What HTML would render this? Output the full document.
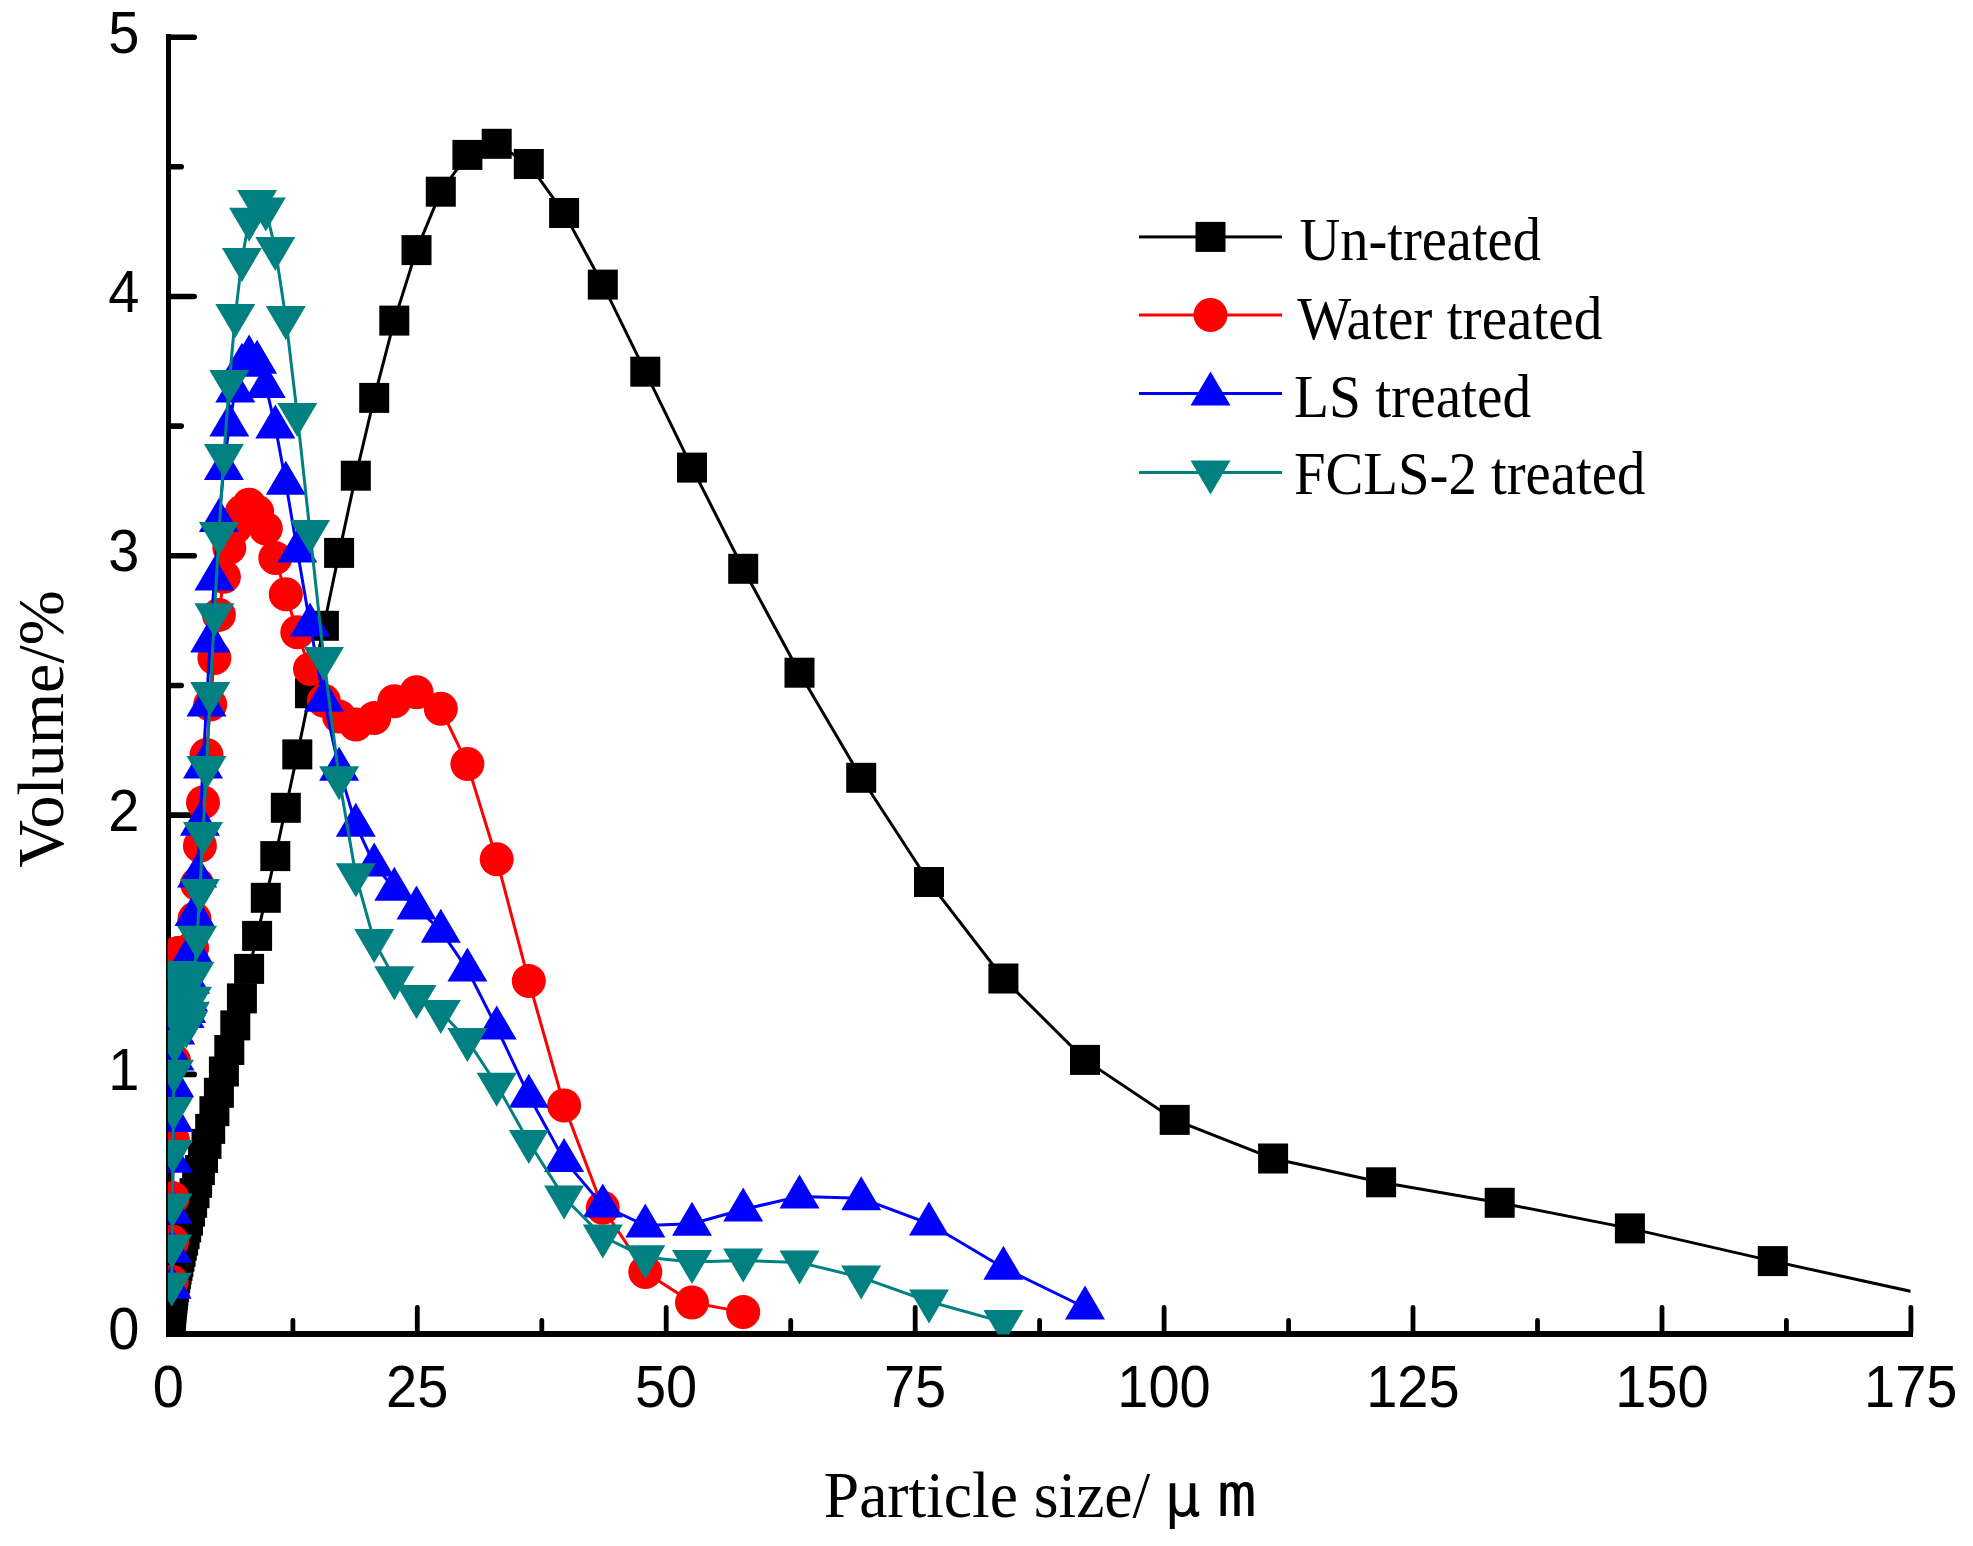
<!DOCTYPE html>
<html><head><meta charset="utf-8"><title>Particle size distribution</title>
<style>html,body{margin:0;padding:0;background:#fff}svg{display:block}text{font-family:"Liberation Sans",sans-serif;fill:#000}.s{font-family:"Liberation Serif","Noto Serif CJK SC",serif}</style></head><body>
<svg width="1973" height="1546" viewBox="0 0 1973 1546">
<rect width="1973" height="1546" fill="#fff"/>
<g fill="#000" shape-rendering="crispEdges">
<rect x="166" y="34" width="5" height="1303"/>
<rect x="166" y="1331" width="1747" height="6"/>

</g>
<g stroke="#000" stroke-linecap="round" fill="none">
<path stroke-width="5.6" d="M169 1333.7H194.2"/><path stroke-width="5.6" d="M169 1074.4H194.2"/><path stroke-width="5.6" d="M169 815.1H194.2"/><path stroke-width="5.6" d="M169 555.8H194.2"/><path stroke-width="5.6" d="M169 296.5H194.2"/><path stroke-width="5.6" d="M169 37.2H194.2"/><path stroke-width="5.6" d="M169 1204H181.2"/><path stroke-width="5.6" d="M169 944.8H181.2"/><path stroke-width="5.6" d="M169 685.5H181.2"/><path stroke-width="5.6" d="M169 426.1H181.2"/><path stroke-width="5.6" d="M169 166.8H181.2"/>
<path stroke-width="4.8" d="M168.4 1333V1307.4"/><path stroke-width="4.8" d="M417.3 1333V1307.4"/><path stroke-width="4.8" d="M666.2 1333V1307.4"/><path stroke-width="4.8" d="M915.2 1333V1307.4"/><path stroke-width="4.8" d="M1164.1 1333V1307.4"/><path stroke-width="4.8" d="M1413 1333V1307.4"/><path stroke-width="4.8" d="M1662 1333V1307.4"/><path stroke-width="4.8" d="M1910.9 1333V1307.4"/><path stroke-width="4.8" d="M292.9 1333V1320.4"/><path stroke-width="4.8" d="M541.8 1333V1320.4"/><path stroke-width="4.8" d="M790.7 1333V1320.4"/><path stroke-width="4.8" d="M1039.6 1333V1320.4"/><path stroke-width="4.8" d="M1288.6 1333V1320.4"/><path stroke-width="4.8" d="M1537.5 1333V1320.4"/><path stroke-width="4.8" d="M1786.4 1333V1320.4"/>
</g>
<text font-size="60" text-anchor="middle" transform="translate(168.3,1406.7) scale(0.933,1)">0</text><text font-size="60" text-anchor="middle" transform="translate(417.2,1406.7) scale(0.933,1)">25</text><text font-size="60" text-anchor="middle" transform="translate(666.1,1406.7) scale(0.933,1)">50</text><text font-size="60" text-anchor="middle" transform="translate(915.1,1406.7) scale(0.933,1)">75</text><text font-size="60" text-anchor="middle" transform="translate(1164,1406.7) scale(0.933,1)">100</text><text font-size="60" text-anchor="middle" transform="translate(1412.9,1406.7) scale(0.933,1)">125</text><text font-size="60" text-anchor="middle" transform="translate(1661.9,1406.7) scale(0.933,1)">150</text><text font-size="60" text-anchor="middle" transform="translate(1910.8,1406.7) scale(0.933,1)">175</text>
<text font-size="60" text-anchor="end" transform="translate(139.4,1349.2) scale(0.933,1)">0</text><text font-size="60" text-anchor="end" transform="translate(139.4,1089.9) scale(0.933,1)">1</text><text font-size="60" text-anchor="end" transform="translate(139.4,830.6) scale(0.933,1)">2</text><text font-size="60" text-anchor="end" transform="translate(139.4,571.3) scale(0.933,1)">3</text><text font-size="60" text-anchor="end" transform="translate(139.4,312) scale(0.933,1)">4</text><text font-size="60" text-anchor="end" transform="translate(139.4,52.7) scale(0.933,1)">5</text>
<text class="s" font-size="65" transform="translate(823.8,1517) scale(0.978,1)">Particle size/</text>
<text font-size="61" style="font-family:'DejaVu Sans Mono',monospace" x="1164" y="1515.5">μ</text>
<text font-size="61" style="font-family:'DejaVu Sans Mono',monospace" transform="translate(1217,1516) scale(1.08,1)">m</text>
<text class="s" font-size="66" text-anchor="middle" transform="translate(62.5,729) rotate(-90)">Volume/%</text>
<clipPath id="c"><rect x="167.9" y="20" width="1742.6" height="1314.5"/></clipPath>
<g clip-path="url(#c)">
<g fill="#000" stroke="none">
<polyline fill="none" stroke="#000" stroke-width="3" points="170.1,1333.7 170.3,1328.5 170.6,1323.3 170.8,1318.1 171.1,1313 171.4,1309.1 171.7,1305.7 172.1,1302.1 172.5,1298.7 172.9,1294.8 173.4,1290.9 174,1287 174.5,1282.4 175.2,1278 175.9,1273.8 176.6,1269.7 177.5,1265.8 178.4,1262 179.4,1256.7 180.6,1251.8 181.8,1245.8 183.1,1240.6 184.6,1234.1 186.2,1227.4 188,1220.6 190,1211.6 192.1,1202.8 194.5,1193.2 197.1,1182.8 199.9,1170.1 203,1157.9 206.5,1143.9 210.2,1128.9 214.4,1111.2 218.9,1092.8 223.9,1071.5 229.3,1050 235.3,1025.4 241.9,998.4 249.1,968.9 257.1,935.9 265.8,897.8 275.3,856.1 285.8,807.8 297.3,754.4 310,693.2 323.9,625.8 339.1,552.9 355.8,475.7 374.2,397.9 394.3,320.6 416.5,250.1 440.8,191.7 467.4,154.9 496.7,143.8 528.8,164 564.1,213 602.8,284.6 645.3,371.7 692,467.6 743.2,568.8 799.5,672.7 861.2,777.8 929,882 1003.4,978.5 1085,1059.9 1174.7,1119.9 1273.1,1158.5 1381.1,1182.3 1499.7,1202.8 1629.9,1228.4 1772.8,1261.1 1929.7,1295.5"/>
<rect x="155.1" y="1318.7" width="30" height="30"/><rect x="155.3" y="1313.5" width="30" height="30"/><rect x="155.6" y="1308.3" width="30" height="30"/><rect x="155.8" y="1303.1" width="30" height="30"/><rect x="156.1" y="1298" width="30" height="30"/><rect x="156.4" y="1294.1" width="30" height="30"/><rect x="156.7" y="1290.7" width="30" height="30"/><rect x="157.1" y="1287.1" width="30" height="30"/><rect x="157.5" y="1283.7" width="30" height="30"/><rect x="157.9" y="1279.8" width="30" height="30"/><rect x="158.4" y="1275.9" width="30" height="30"/><rect x="159" y="1272" width="30" height="30"/><rect x="159.5" y="1267.4" width="30" height="30"/><rect x="160.2" y="1263" width="30" height="30"/><rect x="160.9" y="1258.8" width="30" height="30"/><rect x="161.6" y="1254.7" width="30" height="30"/><rect x="162.5" y="1250.8" width="30" height="30"/><rect x="163.4" y="1247" width="30" height="30"/><rect x="164.4" y="1241.7" width="30" height="30"/><rect x="165.6" y="1236.8" width="30" height="30"/><rect x="166.8" y="1230.8" width="30" height="30"/><rect x="168.1" y="1225.6" width="30" height="30"/><rect x="169.6" y="1219.1" width="30" height="30"/><rect x="171.2" y="1212.4" width="30" height="30"/><rect x="173" y="1205.6" width="30" height="30"/><rect x="175" y="1196.6" width="30" height="30"/><rect x="177.1" y="1187.8" width="30" height="30"/><rect x="179.5" y="1178.2" width="30" height="30"/><rect x="182.1" y="1167.8" width="30" height="30"/><rect x="184.9" y="1155.1" width="30" height="30"/><rect x="188" y="1142.9" width="30" height="30"/><rect x="191.5" y="1128.9" width="30" height="30"/><rect x="195.2" y="1113.9" width="30" height="30"/><rect x="199.4" y="1096.2" width="30" height="30"/><rect x="203.9" y="1077.8" width="30" height="30"/><rect x="208.9" y="1056.5" width="30" height="30"/><rect x="214.3" y="1035" width="30" height="30"/><rect x="220.3" y="1010.4" width="30" height="30"/><rect x="226.9" y="983.4" width="30" height="30"/><rect x="234.1" y="953.9" width="30" height="30"/><rect x="242.1" y="920.9" width="30" height="30"/><rect x="250.8" y="882.8" width="30" height="30"/><rect x="260.3" y="841.1" width="30" height="30"/><rect x="270.8" y="792.8" width="30" height="30"/><rect x="282.3" y="739.4" width="30" height="30"/><rect x="295" y="678.2" width="30" height="30"/><rect x="308.9" y="610.8" width="30" height="30"/><rect x="324.1" y="537.9" width="30" height="30"/><rect x="340.8" y="460.7" width="30" height="30"/><rect x="359.2" y="382.9" width="30" height="30"/><rect x="379.3" y="305.6" width="30" height="30"/><rect x="401.5" y="235.1" width="30" height="30"/><rect x="425.8" y="176.7" width="30" height="30"/><rect x="452.4" y="139.9" width="30" height="30"/><rect x="481.7" y="128.8" width="30" height="30"/><rect x="513.8" y="149" width="30" height="30"/><rect x="549.1" y="198" width="30" height="30"/><rect x="587.8" y="269.6" width="30" height="30"/><rect x="630.3" y="356.7" width="30" height="30"/><rect x="677" y="452.6" width="30" height="30"/><rect x="728.2" y="553.8" width="30" height="30"/><rect x="784.5" y="657.7" width="30" height="30"/><rect x="846.2" y="762.8" width="30" height="30"/><rect x="914" y="867" width="30" height="30"/><rect x="988.4" y="963.5" width="30" height="30"/><rect x="1070" y="1044.9" width="30" height="30"/><rect x="1159.7" y="1104.9" width="30" height="30"/><rect x="1258.1" y="1143.5" width="30" height="30"/><rect x="1366.1" y="1167.3" width="30" height="30"/><rect x="1484.7" y="1187.8" width="30" height="30"/><rect x="1614.9" y="1213.4" width="30" height="30"/><rect x="1757.8" y="1246.1" width="30" height="30"/><rect x="1914.7" y="1280.5" width="30" height="30"/>
</g>
<g fill="#f00" stroke="none">
<polyline fill="none" stroke="#f00" stroke-width="3" points="171.7,1281.8 172.1,1241.4 172.5,1198.1 172.9,1140 173.4,1097 174,1060.7 174.5,1009.6 175.2,981.1 175.9,965.5 176.6,957.7 177.5,953.8 178.4,953 179.4,953 180.6,953.6 181.8,953.8 183.1,953.8 184.6,953.8 186.2,953.3 188,952.5 190,951.2 192.1,947.9 194.5,918.8 197.1,884.1 199.9,845.7 203,802.4 206.5,754.9 210.2,704.6 214.4,658 218.9,614.9 223.9,576.8 229.3,547.8 235.3,527.3 241.9,511.7 249.1,504.7 257.1,511.7 265.8,528.6 275.3,558.1 285.8,594.2 297.3,632.3 310,669.1 323.9,700.7 339.1,716.6 355.8,724.6 374.2,718.1 394.3,701.3 416.5,692.2 440.8,708.8 467.4,764 496.7,859.2 528.8,981.1 564.1,1105.5 602.8,1207.8 645.3,1272.1 692,1302.5 743.2,1312.1"/>
<circle cx="171.7" cy="1281.8" r="17"/><circle cx="172.1" cy="1241.4" r="17"/><circle cx="172.5" cy="1198.1" r="17"/><circle cx="172.9" cy="1140" r="17"/><circle cx="173.4" cy="1097" r="17"/><circle cx="174" cy="1060.7" r="17"/><circle cx="174.5" cy="1009.6" r="17"/><circle cx="175.2" cy="981.1" r="17"/><circle cx="175.9" cy="965.5" r="17"/><circle cx="176.6" cy="957.7" r="17"/><circle cx="177.5" cy="953.8" r="17"/><circle cx="178.4" cy="953" r="17"/><circle cx="179.4" cy="953" r="17"/><circle cx="180.6" cy="953.6" r="17"/><circle cx="181.8" cy="953.8" r="17"/><circle cx="183.1" cy="953.8" r="17"/><circle cx="184.6" cy="953.8" r="17"/><circle cx="186.2" cy="953.3" r="17"/><circle cx="188" cy="952.5" r="17"/><circle cx="190" cy="951.2" r="17"/><circle cx="192.1" cy="947.9" r="17"/><circle cx="194.5" cy="918.8" r="17"/><circle cx="197.1" cy="884.1" r="17"/><circle cx="199.9" cy="845.7" r="17"/><circle cx="203" cy="802.4" r="17"/><circle cx="206.5" cy="754.9" r="17"/><circle cx="210.2" cy="704.6" r="17"/><circle cx="214.4" cy="658" r="17"/><circle cx="218.9" cy="614.9" r="17"/><circle cx="223.9" cy="576.8" r="17"/><circle cx="229.3" cy="547.8" r="17"/><circle cx="235.3" cy="527.3" r="17"/><circle cx="241.9" cy="511.7" r="17"/><circle cx="249.1" cy="504.7" r="17"/><circle cx="257.1" cy="511.7" r="17"/><circle cx="265.8" cy="528.6" r="17"/><circle cx="275.3" cy="558.1" r="17"/><circle cx="285.8" cy="594.2" r="17"/><circle cx="297.3" cy="632.3" r="17"/><circle cx="310" cy="669.1" r="17"/><circle cx="323.9" cy="700.7" r="17"/><circle cx="339.1" cy="716.6" r="17"/><circle cx="355.8" cy="724.6" r="17"/><circle cx="374.2" cy="718.1" r="17"/><circle cx="394.3" cy="701.3" r="17"/><circle cx="416.5" cy="692.2" r="17"/><circle cx="440.8" cy="708.8" r="17"/><circle cx="467.4" cy="764" r="17"/><circle cx="496.7" cy="859.2" r="17"/><circle cx="528.8" cy="981.1" r="17"/><circle cx="564.1" cy="1105.5" r="17"/><circle cx="602.8" cy="1207.8" r="17"/><circle cx="645.3" cy="1272.1" r="17"/><circle cx="692" cy="1302.5" r="17"/><circle cx="743.2" cy="1312.1" r="17"/>
</g>
<g fill="#00f" stroke="none">
<polyline fill="none" stroke="#00f" stroke-width="3" points="171.7,1286.8 172.1,1250.7 172.5,1211.8 172.9,1160.7 173.4,1120 174,1085 174.5,1058.6 175.2,1032.4 175.9,1019.9 176.6,1010.9 177.5,1005.7 178.4,1003.1 179.4,1003.1 180.6,1004.4 181.8,1005.7 183.1,1007 184.6,1015.9 186.2,1011 188,999.2 190,981.8 192.1,949.9 194.5,913.9 197.1,875.5 199.9,823.7 203,766.6 206.5,704.6 210.2,640.6 214.4,578.6 218.9,520 223.9,467.9 229.3,424.6 235.3,390.6 241.9,364.7 249.1,356.4 257.1,361.8 265.8,386 275.3,426.4 285.8,482.7 297.3,550.6 310,624.5 323.9,699.7 339.1,768.7 355.8,824.7 374.2,864.4 394.3,888.7 416.5,907.4 440.8,930.7 467.4,969.6 496.7,1027.5 528.8,1095.7 564.1,1160 602.8,1205.6 645.3,1225.6 692,1223.8 743.2,1209.5 799.5,1196.4 861.2,1198.3 929,1223.5 1003.4,1267.7 1085,1307.5"/>
<path d="M171.7 1264.8l20 34h-40z"/><path d="M172.1 1228.7l20 34h-40z"/><path d="M172.5 1189.8l20 34h-40z"/><path d="M172.9 1138.7l20 34h-40z"/><path d="M173.4 1098l20 34h-40z"/><path d="M174 1063l20 34h-40z"/><path d="M174.5 1036.6l20 34h-40z"/><path d="M175.2 1010.4l20 34h-40z"/><path d="M175.9 997.9l20 34h-40z"/><path d="M176.6 988.9l20 34h-40z"/><path d="M177.5 983.7l20 34h-40z"/><path d="M178.4 981.1l20 34h-40z"/><path d="M179.4 981.1l20 34h-40z"/><path d="M180.6 982.4l20 34h-40z"/><path d="M181.8 983.7l20 34h-40z"/><path d="M183.1 985l20 34h-40z"/><path d="M184.6 993.9l20 34h-40z"/><path d="M186.2 989l20 34h-40z"/><path d="M188 977.2l20 34h-40z"/><path d="M190 959.8l20 34h-40z"/><path d="M192.1 927.9l20 34h-40z"/><path d="M194.5 891.9l20 34h-40z"/><path d="M197.1 853.5l20 34h-40z"/><path d="M199.9 801.7l20 34h-40z"/><path d="M203 744.6l20 34h-40z"/><path d="M206.5 682.6l20 34h-40z"/><path d="M210.2 618.6l20 34h-40z"/><path d="M214.4 556.6l20 34h-40z"/><path d="M218.9 498l20 34h-40z"/><path d="M223.9 445.9l20 34h-40z"/><path d="M229.3 402.6l20 34h-40z"/><path d="M235.3 368.6l20 34h-40z"/><path d="M241.9 342.7l20 34h-40z"/><path d="M249.1 334.4l20 34h-40z"/><path d="M257.1 339.8l20 34h-40z"/><path d="M265.8 364l20 34h-40z"/><path d="M275.3 404.4l20 34h-40z"/><path d="M285.8 460.7l20 34h-40z"/><path d="M297.3 528.6l20 34h-40z"/><path d="M310 602.5l20 34h-40z"/><path d="M323.9 677.7l20 34h-40z"/><path d="M339.1 746.7l20 34h-40z"/><path d="M355.8 802.7l20 34h-40z"/><path d="M374.2 842.4l20 34h-40z"/><path d="M394.3 866.7l20 34h-40z"/><path d="M416.5 885.4l20 34h-40z"/><path d="M440.8 908.7l20 34h-40z"/><path d="M467.4 947.6l20 34h-40z"/><path d="M496.7 1005.5l20 34h-40z"/><path d="M528.8 1073.7l20 34h-40z"/><path d="M564.1 1138l20 34h-40z"/><path d="M602.8 1183.6l20 34h-40z"/><path d="M645.3 1203.6l20 34h-40z"/><path d="M692 1201.8l20 34h-40z"/><path d="M743.2 1187.5l20 34h-40z"/><path d="M799.5 1174.4l20 34h-40z"/><path d="M861.2 1176.3l20 34h-40z"/><path d="M929 1201.5l20 34h-40z"/><path d="M1003.4 1245.7l20 34h-40z"/><path d="M1085 1285.5l20 34h-40z"/>
</g>
<g fill="#008080" stroke="none">
<polyline fill="none" stroke="#008080" stroke-width="3" points="171.7,1284.7 172.1,1246.6 172.5,1205.6 172.9,1151.9 173.4,1108.9 174,1071.8 174.5,1042 175.2,1016.1 175.9,996.6 176.6,981.1 177.5,973.3 178.4,973 179.4,978.5 180.6,988.8 181.8,1001.8 183.1,1014.8 184.6,1023.8 186.2,1026.4 188,1023.3 190,1013.7 192.1,998.7 194.5,973.8 197.1,937.7 199.9,891.1 203,834 206.5,767.9 210.2,694 214.4,615.2 218.9,534 223.9,456 229.3,382.1 235.3,315.9 241.9,259.9 249.1,219.7 257.1,201.9 265.8,209.6 275.3,249 285.8,318 297.3,415 310,531.9 323.9,659 339.1,778.3 355.8,875.3 374.2,941.1 394.3,978.2 416.5,997.1 440.8,1011.9 467.4,1039.9 496.7,1084.8 528.8,1142.1 564.1,1197.6 602.8,1236.5 645.3,1257.2 692,1262 743.2,1260.6 799.5,1262.4 861.2,1277.4 929,1301.5 1003.4,1322.1"/>
<path d="M171.7 1306.7l20 -34h-40z"/><path d="M172.1 1268.6l20 -34h-40z"/><path d="M172.5 1227.6l20 -34h-40z"/><path d="M172.9 1173.9l20 -34h-40z"/><path d="M173.4 1130.9l20 -34h-40z"/><path d="M174 1093.8l20 -34h-40z"/><path d="M174.5 1064l20 -34h-40z"/><path d="M175.2 1038.1l20 -34h-40z"/><path d="M175.9 1018.6l20 -34h-40z"/><path d="M176.6 1003.1l20 -34h-40z"/><path d="M177.5 995.3l20 -34h-40z"/><path d="M178.4 995l20 -34h-40z"/><path d="M179.4 1000.5l20 -34h-40z"/><path d="M180.6 1010.8l20 -34h-40z"/><path d="M181.8 1023.8l20 -34h-40z"/><path d="M183.1 1036.8l20 -34h-40z"/><path d="M184.6 1045.8l20 -34h-40z"/><path d="M186.2 1048.4l20 -34h-40z"/><path d="M188 1045.3l20 -34h-40z"/><path d="M190 1035.7l20 -34h-40z"/><path d="M192.1 1020.7l20 -34h-40z"/><path d="M194.5 995.8l20 -34h-40z"/><path d="M197.1 959.7l20 -34h-40z"/><path d="M199.9 913.1l20 -34h-40z"/><path d="M203 856l20 -34h-40z"/><path d="M206.5 789.9l20 -34h-40z"/><path d="M210.2 716l20 -34h-40z"/><path d="M214.4 637.2l20 -34h-40z"/><path d="M218.9 556l20 -34h-40z"/><path d="M223.9 478l20 -34h-40z"/><path d="M229.3 404.1l20 -34h-40z"/><path d="M235.3 337.9l20 -34h-40z"/><path d="M241.9 281.9l20 -34h-40z"/><path d="M249.1 241.7l20 -34h-40z"/><path d="M257.1 223.9l20 -34h-40z"/><path d="M265.8 231.6l20 -34h-40z"/><path d="M275.3 271l20 -34h-40z"/><path d="M285.8 340l20 -34h-40z"/><path d="M297.3 437l20 -34h-40z"/><path d="M310 553.9l20 -34h-40z"/><path d="M323.9 681l20 -34h-40z"/><path d="M339.1 800.3l20 -34h-40z"/><path d="M355.8 897.3l20 -34h-40z"/><path d="M374.2 963.1l20 -34h-40z"/><path d="M394.3 1000.2l20 -34h-40z"/><path d="M416.5 1019.1l20 -34h-40z"/><path d="M440.8 1033.9l20 -34h-40z"/><path d="M467.4 1061.9l20 -34h-40z"/><path d="M496.7 1106.8l20 -34h-40z"/><path d="M528.8 1164.1l20 -34h-40z"/><path d="M564.1 1219.6l20 -34h-40z"/><path d="M602.8 1258.5l20 -34h-40z"/><path d="M645.3 1279.2l20 -34h-40z"/><path d="M692 1284l20 -34h-40z"/><path d="M743.2 1282.6l20 -34h-40z"/><path d="M799.5 1284.4l20 -34h-40z"/><path d="M861.2 1299.4l20 -34h-40z"/><path d="M929 1323.5l20 -34h-40z"/><path d="M1003.4 1344.1l20 -34h-40z"/>
</g>
</g>
<g fill="#000"><rect x="1139" y="235.4" width="143" height="3"/><rect x="1195.5" y="221.9" width="30" height="30"/></g><text class="s" font-size="60.5" transform="translate(1299.4,259.8) scale(0.934,1)">Un-treated</text>
<g fill="#f00"><rect x="1139" y="313.5" width="143" height="3"/><circle cx="1210.5" cy="315" r="17"/></g><text class="s" font-size="60.5" transform="translate(1297.2,338.6) scale(0.946,1)">Water treated</text>
<g fill="#00f"><rect x="1139" y="392" width="143" height="3"/><path d="M1210.5 371.5l20 34h-40z"/></g><text class="s" font-size="60.5" transform="translate(1293.9,416.6) scale(0.948,1)">LS treated</text>
<g fill="#008080"><rect x="1139" y="471" width="143" height="3"/><path d="M1210.5 494.5l20 -34h-40z"/></g><text class="s" font-size="60.5" transform="translate(1293.9,494.4) scale(0.938,1)">FCLS-2 treated</text>
</svg>
</body></html>
